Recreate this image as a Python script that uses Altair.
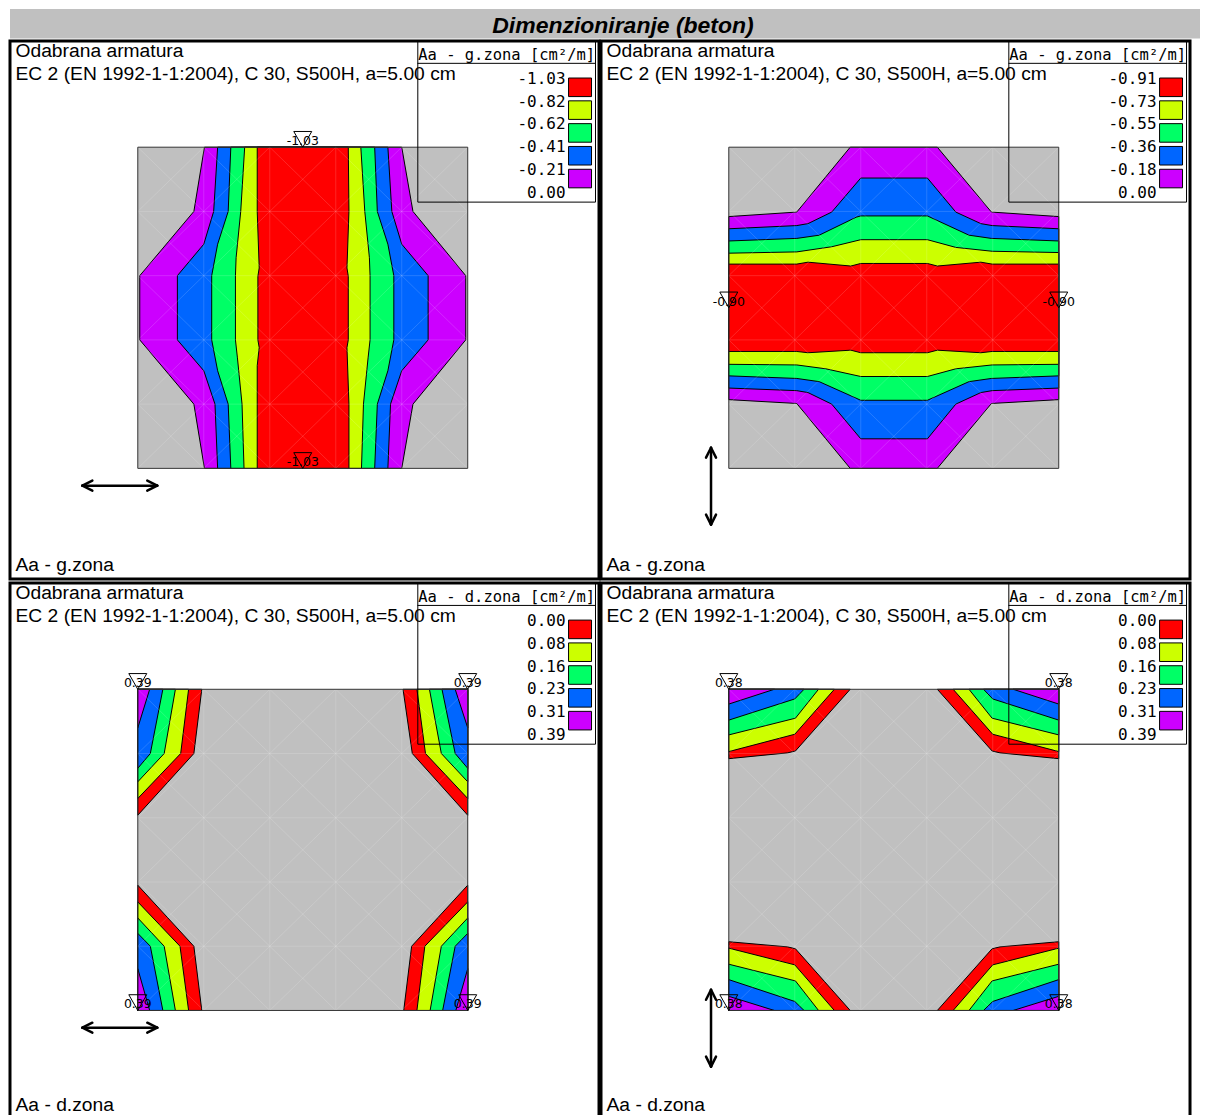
import math
import altair as alt
import pandas as pd

# ---------------- texts ----------------
TITLE = "Dimenzioniranje (beton)"
LINE1 = "Odabrana armatura"
LINE2 = "EC 2 (EN 1992-1-1:2004), C 30, S500H, a=5.00 cm"
FOOT_G = "Aa - g.zona"
FOOT_D = "Aa - d.zona"
HEAD_G = "Aa - g.zona [cm²/m]"
HEAD_D = "Aa - d.zona [cm²/m]"

# ---------------- legend values ----------------
TL_LEGEND = ["-1.03", "-0.82", "-0.62", "-0.41", "-0.21", "0.00"]
TR_LEGEND = ["-0.91", "-0.73", "-0.55", "-0.36", "-0.18", "0.00"]
BL_LEGEND = ["0.00", "0.08", "0.16", "0.23", "0.31", "0.39"]
BR_LEGEND = ["0.00", "0.08", "0.16", "0.23", "0.31", "0.39"]

RED, YELLOW, GREEN, BLUE, PURPLE = "#FF0000", "#CCFF00", "#00FF66", "#0066FF", "#CC00FF"
LEGEND_COLORS = [RED, YELLOW, GREEN, BLUE, PURPLE]
GREY = "#C0C0C0"

# ---------------- extreme value markers (slab units u, v) ----------------
TL_MARK = [(2.5, 5.0, "-1.03"), (2.5, 0.0, "-1.03")]
TR_MARK = [(0.0, 2.5, "-0.90"), (5.0, 2.5, "-0.90")]
BL_MARK = [(0.0, 5.0, "0.39"), (5.0, 5.0, "0.39"), (0.0, 0.0, "0.39"), (5.0, 0.0, "0.39")]
BR_MARK = [(0.0, 5.0, "0.38"), (5.0, 5.0, "0.38"), (0.0, 0.0, "0.38"), (5.0, 0.0, "0.38")]

# ---------------- contour band polygons (slab 5 x 5 elements) ----------------
TL_PURPLE = [(1.01, 5.0), (0.85, 4.0), (0.03, 3.0), (0.03, 2.0), (0.85, 1.0), (1.01, 0.0),
             (4.0, 0.0), (4.17, 1.0), (4.97, 2.0), (4.97, 3.0), (4.17, 4.0), (4.0, 5.0)]
TL_BLUE = [(1.21, 5.0), (1.15, 4.0), (1.0, 3.49), (0.6, 3.0), (0.6, 2.0), (1.0, 1.52), (1.17, 1.0), (1.21, 0.0),
           (3.79, 0.0), (3.83, 1.0), (4.0, 1.52), (4.4, 2.0), (4.4, 3.0), (4.0, 3.49), (3.85, 4.0), (3.79, 5.0)]
TL_GREEN = [(1.41, 5.0), (1.37, 4.0), (1.21, 3.49), (1.12, 3.0), (1.12, 2.0), (1.21, 1.52), (1.37, 1.0), (1.41, 0.0),
            (3.59, 0.0), (3.63, 1.0), (3.79, 1.52), (3.88, 2.0), (3.88, 3.0), (3.79, 3.49), (3.63, 4.0), (3.59, 5.0)]
TL_YELLOW = [(1.62, 5.0), (1.56, 4.0), (1.49, 3.28), (1.48, 3.0), (1.48, 2.0), (1.51, 1.72), (1.58, 1.0), (1.61, 0.0),
             (3.39, 0.0), (3.42, 1.0), (3.49, 1.72), (3.52, 2.0), (3.52, 3.0), (3.51, 3.28), (3.44, 4.0), (3.38, 5.0)]
TL_RED = [(1.81, 5.0), (1.81, 4.0), (1.84, 3.12), (1.82, 2.99), (1.82, 2.0), (1.84, 1.88), (1.81, 1.6), (1.81, 0.0),
          (3.2, 0.0), (3.2, 1.0), (3.17, 1.88), (3.19, 2.0), (3.19, 2.99), (3.17, 3.12), (3.2, 4.0), (3.19, 5.0)]

TR_PURPLE = [(0.0, 3.92), (1.03, 3.99), (1.84, 5.0), (3.16, 5.0), (3.98, 3.99), (5.0, 3.92),
             (5.0, 1.07), (3.98, 1.01), (3.16, 0.0), (1.84, 0.0), (1.03, 1.01), (0.0, 1.07)]
TR_BLUE = [(0.0, 3.73), (1.03, 3.78), (1.2, 3.81), (1.56, 3.99), (2.0, 4.52), (3.01, 4.52), (3.44, 3.99),
           (3.82, 3.81), (3.99, 3.78), (5.0, 3.73), (5.0, 1.25), (3.99, 1.21), (3.82, 1.18), (3.44, 1.0),
           (3.01, 0.46), (2.0, 0.46), (1.56, 1.0), (1.2, 1.18), (1.03, 1.21), (0.0, 1.25)]
TR_GREEN = [(0.0, 3.54), (1.03, 3.58), (1.37, 3.63), (1.93, 3.91), (2.0, 3.93), (3.01, 3.93), (3.64, 3.63),
            (3.98, 3.58), (5.0, 3.54), (5.0, 1.44), (3.98, 1.4), (3.64, 1.35), (3.01, 1.06), (2.0, 1.06),
            (1.37, 1.35), (1.03, 1.4), (0.0, 1.44)]
TR_YELLOW = [(0.0, 3.35), (1.03, 3.37), (1.56, 3.45), (2.0, 3.56), (3.01, 3.56), (3.44, 3.44), (3.99, 3.38),
             (5.0, 3.36), (5.0, 1.62), (3.99, 1.61), (3.44, 1.55), (3.01, 1.43), (2.0, 1.43), (1.47, 1.55),
             (1.03, 1.61), (0.0, 1.62)]
TR_RED = [(0.0, 3.18), (1.03, 3.18), (1.2, 3.21), (1.85, 3.15), (2.0, 3.19), (3.01, 3.19), (3.16, 3.15),
          (3.82, 3.21), (3.99, 3.18), (5.0, 3.18), (5.0, 1.82), (3.99, 1.82), (3.82, 1.8), (3.16, 1.84),
          (3.01, 1.8), (2.0, 1.8), (1.85, 1.84), (1.2, 1.8), (1.03, 1.82), (0.0, 1.82)]

BL_RED = [[(0, 5), (0.97, 5), (0.85, 4.0), (0, 3.04)],
          [(5, 5), (4.02, 5), (4.16, 4.0), (5, 3.04)],
          [(0, 0), (0.97, 0), (0.85, 1.0), (0, 1.95)],
          [(5, 0), (4.03, 0), (4.15, 1.0), (5, 1.95)]]
BL_YELLOW = [[(0, 5), (0.77, 5), (0.65, 4.0), (0, 3.30)],
             [(5, 5), (4.23, 5), (4.36, 4.0), (5, 3.30)],
             [(0, 0), (0.77, 0), (0.64, 1.0), (0, 1.69)],
             [(5, 0), (4.23, 0), (4.35, 1.0), (5, 1.69)]]
BL_GREEN = [[(0, 5), (0.57, 5), (0.40, 4.0), (0, 3.56)],
            [(5, 5), (4.42, 5), (4.60, 4.0), (5, 3.56)],
            [(0, 0), (0.57, 0), (0.40, 1.0), (0, 1.44)],
            [(5, 0), (4.43, 0), (4.60, 1.0), (5, 1.44)]]
BL_BLUE = [[(0, 5), (0.38, 5), (0.19, 4.0), (0, 3.77)],
           [(5, 5), (4.61, 5), (4.81, 4.0), (5, 3.77)],
           [(0, 0), (0.38, 0), (0.19, 1.0), (0, 1.2)],
           [(5, 0), (4.62, 0), (4.81, 1.0), (5, 1.2)]]
BL_PURPLE = [[(0, 5), (0.18, 5), (0, 4.4)],
             [(5, 5), (4.81, 5), (5, 4.4)],
             [(0, 0), (0.18, 0), (0, 0.65)],
             [(5, 0), (4.82, 0), (5, 0.65)]]

BR_RED = [[(0, 5), (1.84, 5), (1.01, 4.04), (0.89, 4.01), (0, 3.92)],
          [(5, 5), (3.16, 5), (3.99, 4.04), (4.11, 4.01), (5, 3.92)],
          [(0, 0), (1.84, 0), (1.01, 0.96), (0.89, 0.99), (0, 1.07)],
          [(5, 0), (3.16, 0), (3.99, 0.96), (4.11, 0.99), (5, 1.07)]]
BR_YELLOW = [[(0, 5), (1.60, 5), (1.0, 4.30), (0, 4.03)],
             [(5, 5), (3.40, 5), (4.0, 4.30), (5, 4.03)],
             [(0, 0), (1.60, 0), (1.0, 0.71), (0, 0.97)],
             [(5, 0), (3.40, 0), (4.0, 0.71), (5, 0.97)]]
BR_GREEN = [[(0, 5), (1.36, 5), (1.01, 4.55), (0, 4.29)],
            [(5, 5), (3.64, 5), (3.99, 4.55), (5, 4.29)],
            [(0, 0), (1.36, 0), (1.01, 0.46), (0, 0.72)],
            [(5, 0), (3.64, 0), (3.99, 0.46), (5, 0.72)]]
BR_BLUE = [[(0, 5), (1.14, 5), (1.0, 4.85), (0, 4.52)],
           [(5, 5), (3.86, 5), (4.0, 4.85), (5, 4.52)],
           [(0, 0), (1.14, 0), (1.0, 0.14), (0, 0.48)],
           [(5, 0), (3.86, 0), (4.0, 0.14), (5, 0.48)]]
BR_PURPLE = [[(0, 5), (0.69, 5), (0, 4.77)],
             [(5, 5), (4.31, 5), (5, 4.77)],
             [(0, 0), (0.69, 0), (0, 0.22)],
             [(5, 0), (4.31, 0), (5, 0.22)]]

# ---------------- layout (pixels inside a panel) ----------------
N = 5
TOTAL_W = 1192
PANEL_W, PANEL_H = 590, 539
SX0, SX1 = 128.0, 458.5
SY0, SY1 = 106.5, 428.2
PXU = (SX1 - SX0) / N
PYU = (SY1 - SY0) / N
XDOM = [-SX0 / PXU, (PANEL_W - SX0) / PXU]
YDOM = [-(PANEL_H - SY1) / PYU, N + SY0 / PYU]

ONE = pd.DataFrame({"a": [0]})
FONT = "Liberation Sans"
MONO = "DejaVu Sans Mono"
SANS = "DejaVu Sans"


def X(f):
    return alt.X(f, scale=alt.Scale(domain=XDOM, nice=False, zero=False), axis=None)


def Y(f):
    return alt.Y(f, scale=alt.Scale(domain=YDOM, nice=False, zero=False), axis=None)


def band_layer(color, polys):
    rows = []
    for pid, pts in enumerate(polys):
        for k, (u, v) in enumerate(pts):
            rows.append({"pid": pid, "k": k, "u": u, "v": v, "c": color})
    return alt.Chart(pd.DataFrame(rows)).mark_line(
        interpolate="linear-closed", stroke="black", strokeWidth=1, strokeJoin="miter"
    ).encode(x=X("u:Q"), y=Y("v:Q"), detail="pid:N", order="k:Q",
             fill=alt.Fill("c:N", scale=None))


def rule_px(a, b, c, d, w=2.5):
    return alt.Chart(ONE).mark_rule(color="black", strokeWidth=w, strokeCap="round").encode(
        x=alt.value(a), y=alt.value(b), x2=alt.value(c), y2=alt.value(d))


def arrow(x1, y1, x2, y2, head=10, half=5):
    dx, dy = x2 - x1, y2 - y1
    L = math.hypot(dx, dy)
    ux, uy = dx / L, dy / L
    px, py = -uy, ux
    segs = [(x1, y1, x2, y2)]
    for tx, ty, s in [(x1, y1, 1), (x2, y2, -1)]:
        bx, by = tx + s * ux * head, ty + s * uy * head
        segs.append((tx, ty, bx + px * half, by + py * half))
        segs.append((tx, ty, bx - px * half, by - py * half))
    return [rule_px(*s) for s in segs]


def text_px(t, x, y, size=19.3, font=FONT, align="left", baseline="alphabetic", **kw):
    return alt.Chart(pd.DataFrame({"t": [t]})).mark_text(
        font=font, fontSize=size, align=align, baseline=baseline, color="black", **kw
    ).encode(x=alt.value(x), y=alt.value(y), text="t:N")


MESH = []
for k in range(1, N):
    MESH.append((k, 0, k, N))
    MESH.append((0, k, N, k))
for i in range(N):
    for j in range(N):
        MESH.append((i, j, i + 1, j + 1))
        MESH.append((i + 1, j, i, j + 1))
MESH_DF = pd.DataFrame(MESH, columns=["x1", "y1", "x2", "y2"])
SLAB_DF = pd.DataFrame({"u0": [0], "u1": [N], "v0": [0], "v1": [N]})


def panel(bands, legend, header, foot, marks, vertical, foot_y):
    layers = [alt.Chart(SLAB_DF).mark_rect(fill=GREY).encode(
        x=X("u0:Q"), x2="u1:Q", y=Y("v0:Q"), y2="v1:Q")]
    for color, polys in bands:
        layers.append(band_layer(color, polys))
    layers.append(alt.Chart(MESH_DF).mark_rule(color="white", opacity=0.15, strokeWidth=1).encode(
        x=X("x1:Q"), y=Y("y1:Q"), x2="x2:Q", y2="y2:Q"))
    layers.append(alt.Chart(SLAB_DF).mark_rect(fillOpacity=0, stroke="#333333", strokeWidth=1).encode(
        x=X("u0:Q"), x2="u1:Q", y=Y("v0:Q"), y2="v1:Q"))
    mdf = pd.DataFrame(marks, columns=["u", "v", "t"])
    layers.append(alt.Chart(mdf).mark_point(
        shape="M-1,-1.75L1,-1.75L0,0Z", size=324, filled=False, stroke="black", strokeWidth=1, opacity=1
    ).encode(x=X("u:Q"), y=Y("v:Q")))
    layers.append(alt.Chart(mdf).mark_text(font=SANS, fontSize=12.5, baseline="alphabetic", dy=-2,
                                           color="black").encode(x=X("u:Q"), y=Y("v:Q"), text="t:N"))
    # legend
    layers.append(alt.Chart(ONE).mark_rect(fillOpacity=0, stroke="black", strokeWidth=1).encode(
        x=alt.value(408.5), x2=alt.value(586.5), y=alt.value(0.5), y2=alt.value(161.5)))
    layers.append(rule_px(408.5, 22.5, 586.5, 22.5, w=1))
    layers.append(text_px(header, 497.5, 19, size=15.5, font=MONO, align="center"))
    for i, lab in enumerate(legend):
        y = 37.2 + 22.85 * i
        layers.append(text_px(lab, 556.5, y + 5.8, size=16, font=MONO, align="right"))
        if i < len(LEGEND_COLORS):
            layers.append(alt.Chart(ONE).mark_rect(fill=LEGEND_COLORS[i], stroke="black", strokeWidth=1).encode(
                x=alt.value(559.5), x2=alt.value(582.5), y=alt.value(y), y2=alt.value(y + 18.6)))
    # texts
    layers.append(text_px(LINE1, 5.5, 16.5))
    layers.append(text_px(LINE2, 5.5, 38.8))
    layers.append(text_px(foot, 5.5, foot_y))
    # arrow
    if vertical:
        layers += arrow(110.2, 407.5, 110.2, 484.5)
    else:
        layers += arrow(72.5, 445.5, 147.5, 445.5)
    # panel frame
    layers.append(alt.Chart(ONE).mark_rect(fillOpacity=0, stroke="black", strokeWidth=3).encode(
        x=alt.value(0), x2=alt.value(PANEL_W), y=alt.value(0), y2=alt.value(PANEL_H)))
    return alt.layer(*layers).properties(width=PANEL_W, height=PANEL_H)


tl = panel([(PURPLE, [TL_PURPLE]), (BLUE, [TL_BLUE]), (GREEN, [TL_GREEN]), (YELLOW, [TL_YELLOW]), (RED, [TL_RED])],
           TL_LEGEND, HEAD_G, FOOT_G, TL_MARK, False, 531.2)
tr = panel([(PURPLE, [TR_PURPLE]), (BLUE, [TR_BLUE]), (GREEN, [TR_GREEN]), (YELLOW, [TR_YELLOW]), (RED, [TR_RED])],
           TR_LEGEND, HEAD_G, FOOT_G, TR_MARK, True, 531.2)
bl = panel([(RED, BL_RED), (YELLOW, BL_YELLOW), (GREEN, BL_GREEN), (BLUE, BL_BLUE), (PURPLE, BL_PURPLE)],
           BL_LEGEND, HEAD_D, FOOT_D, BL_MARK, False, 529.0)
br = panel([(RED, BR_RED), (YELLOW, BR_YELLOW), (GREEN, BR_GREEN), (BLUE, BR_BLUE), (PURPLE, BR_PURPLE)],
           BR_LEGEND, HEAD_D, FOOT_D, BR_MARK, True, 529.0)

title_chart = alt.layer(
    alt.Chart(ONE).mark_rect(fill=GREY).encode(x=alt.value(0), x2=alt.value(TOTAL_W), y=alt.value(0),
                                               y2=alt.value(29.5)),
    text_px(TITLE, 614, 23.7, size=23, align="center", fontWeight="bold", fontStyle="italic"),
).properties(width=TOTAL_W, height=29.5)

chart = alt.vconcat(
    title_chart,
    alt.hconcat(tl, tr, spacing=2, bounds="flush"),
    alt.hconcat(bl, br, spacing=2, bounds="flush"),
    spacing=0,
).properties(padding=0).configure_view(stroke=None)

chart.save("out.html", embed_options={"renderer": "svg", "actions": False})
